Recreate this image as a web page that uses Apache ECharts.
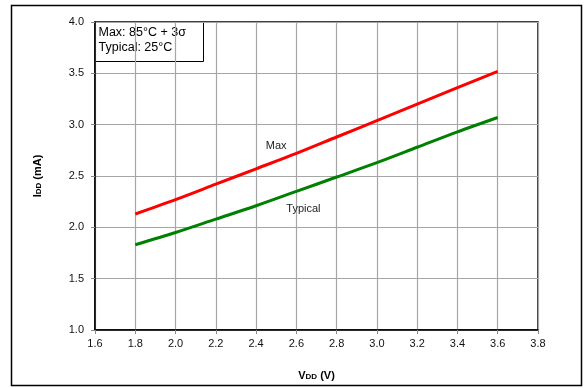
<!DOCTYPE html>
<html>
<head>
<meta charset="utf-8">
<script src="https://cdn.jsdelivr.net/npm/echarts@6/dist/echarts.min.js"></script>
<style>
  html, body { margin: 0; padding: 0; background: #fff; }
  #chart { width: 586px; height: 388px; }
</style>
</head>
<body>
<div id="chart"></div>
<script>
// supply voltage (V)
var vdd = [1.8, 2.0, 2.2, 2.4, 2.6, 2.8, 3.0, 3.2, 3.4, 3.6];
// IDD (mA)
var iddMax = [2.13, 2.27, 2.42, 2.57, 2.72, 2.88, 3.04, 3.20, 3.36, 3.52];
var iddTyp = [1.83, 1.95, 2.08, 2.21, 2.35, 2.49, 2.63, 2.78, 2.93, 3.07];
var legendLines = ['Max: 85°C + 3σ', 'Typical: 25°C'];

var font = 'Liberation Sans, Arial, sans-serif';

function pairs(xs, ys) {
  return xs.map(function (x, i) { return [x, ys[i]]; });
}

// text tag placed at a data coordinate (invisible symbol, visible label)
function tag(text, x, y) {
  return {
    symbol: 'circle', symbolSize: 1,
    itemStyle: { color: 'rgba(0,0,0,0)' },
    data: [{ coord: [x, y], value: text }],
    label: { show: true, position: 'inside', formatter: text, color: '#222', fontSize: 11, fontFamily: font }
  };
}

var chart = echarts.init(document.getElementById('chart'));
var option = {
  animation: false,
  textStyle: { fontFamily: font },
  grid: {
    left: 95, right: 48, top: 22, bottom: 58,
    show: true, borderColor: '#000', borderWidth: 1.5
  },
  xAxis: {
    type: 'value', min: 1.6, max: 3.8, interval: 0.2,
    name: '{a|V}{b|DD}{a| (V)}',
    nameLocation: 'middle', nameGap: 40,
    nameTextStyle: {
      rich: {
        a: { fontFamily: font, fontSize: 11, fontWeight: 'bold', color: '#000' },
        b: { fontFamily: font, fontSize: 8, fontWeight: 'bold', color: '#000', padding: [3, 0, 0, 0] }
      }
    },
    axisLine: { show: true, lineStyle: { color: '#000', width: 1.5 } },
    axisTick: { show: true, length: 4, lineStyle: { color: '#888' } },
    axisLabel: {
      color: '#111', fontSize: 11, margin: 8,
      formatter: function (v) { return v.toFixed(1); }
    },
    splitLine: { show: true, lineStyle: { color: '#a6a6a6', width: 1.2 } }
  },
  yAxis: {
    type: 'value', min: 1.0, max: 4.0, interval: 0.5,
    name: '{a|I}{b|DD}{a| (mA)}',
    nameLocation: 'middle', nameGap: 52, nameRotate: 90,
    nameTextStyle: {
      rich: {
        a: { fontFamily: font, fontSize: 11, fontWeight: 'bold', color: '#000' },
        b: { fontFamily: font, fontSize: 8, fontWeight: 'bold', color: '#000', padding: [3, 0, 0, 0] }
      }
    },
    axisLine: { show: true, lineStyle: { color: '#000', width: 1.5 } },
    axisTick: { show: true, length: 4, lineStyle: { color: '#888' } },
    axisLabel: {
      color: '#111', fontSize: 11, margin: 11,
      formatter: function (v) { return v.toFixed(1); }
    },
    splitLine: { show: true, lineStyle: { color: '#a6a6a6', width: 1.2 } }
  },
  series: [
    {
      name: 'Max', type: 'line', data: pairs(vdd, iddMax),
      smooth: 0.3, showSymbol: false,
      lineStyle: { color: '#ff0000', width: 3 },
      markPoint: tag('Max', 2.5, 2.79)
    },
    {
      name: 'Typical', type: 'line', data: pairs(vdd, iddTyp),
      smooth: 0.3, showSymbol: false,
      lineStyle: { color: '#008000', width: 3 },
      markPoint: tag('Typical', 2.635, 2.18)
    }
  ],
  graphic: [
    {
      type: 'rect', z: -1,
      shape: { x: 11.5, y: 5.5, width: 570, height: 380 },
      style: { fill: 'none', stroke: '#000', lineWidth: 1.5 }
    },
    {
      type: 'group', left: 95, top: 22, z: 10,
      children: [
        {
          type: 'rect',
          shape: { width: 108, height: 39 },
          style: { fill: '#fff', stroke: '#000', lineWidth: 1 }
        },
        {
          type: 'text', left: 3, top: 3,
          style: {
            text: legendLines.join('\n'), fill: '#000',
            font: '12.5px ' + font, lineHeight: 15
          }
        }
      ]
    }
  ]
};
chart.setOption(option);
</script>
</body>
</html>
